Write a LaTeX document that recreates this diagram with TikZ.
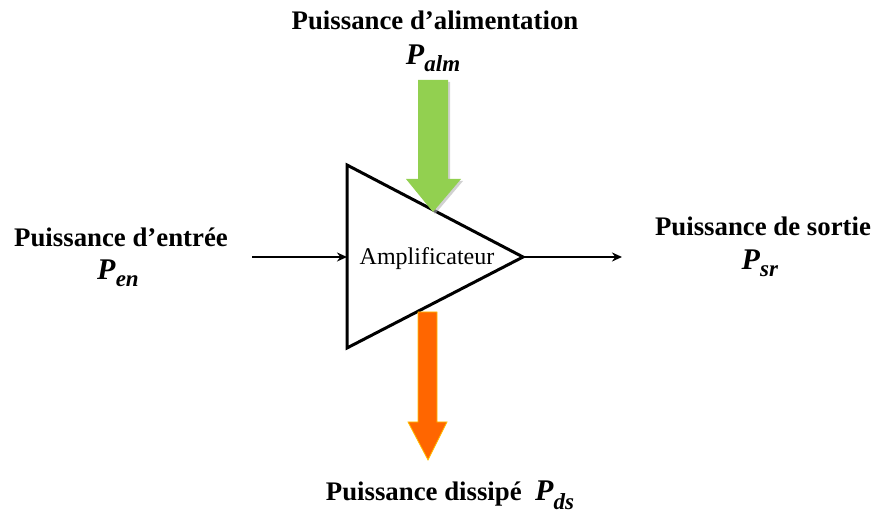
\documentclass[tikz,border=0pt]{standalone}
\usepackage{fontspec}
\setmainfont{Liberation Serif}
\newfontfamily\ampfont{Liberation Serif}
\usetikzlibrary{arrows.meta}
\definecolor{supplygreen}{HTML}{92D050}
\definecolor{lossorange}{HTML}{FF6600}
\definecolor{lossedge}{HTML}{FFC000}
% power symbol: bold italic P with a bold italic subscript
\newcommand{\pwr}[1]{{\fontsize{15}{17}\selectfont\textbf{\textit{P}}}\raisebox{-0.35em}{\fontsize{11.5}{13}\selectfont\textbf{\textit{#1}}}}
\tikzset{
  lbl/.style={font=\fontsize{13.4}{15}\selectfont\bfseries, align=center, inner sep=0pt},
  sym/.style={inner sep=0pt},
  wire/.style={line width=1pt, -{Stealth[length=5pt,width=4.5pt]}},
  body/.style={line width=1.5pt, line join=miter}
}
\begin{document}
\begin{tikzpicture}[x=0.5pt,y=-0.5pt]
\useasboundingbox (0,0) rectangle (872,512);
% amplifier triangle
\coordinate (tl) at (347,165);
\coordinate (bl) at (347,348);
\coordinate (apex) at (523,257);
\coordinate (inp) at (347,257);
\draw[body] (tl) -- (apex) -- (bl) -- cycle;
\node[font=\ampfont\fontsize{12}{14}\selectfont, inner sep=0pt] (amp) at (427,259) {Amplificateur};
% input and output signal paths
\coordinate (src) at (252,257);
\coordinate (load) at (622,257);
\draw[wire] (src) -- (inp);
\draw[wire] (apex) -- (load);
% supply power arrow (green) with soft shadow
\fill[black!30, opacity=0.6, shift={(2,2)}] (418,80) -- (448,80) -- (448,179) -- (461,179) -- (433,212) -- (406,179) -- (418,179) -- cycle;
\fill[supplygreen] (418,80) -- (448,80) -- (448,179) -- (461,179) -- (433,212) -- (406,179) -- (418,179) -- cycle;
% dissipated power arrow (orange)
\filldraw[fill=lossorange, draw=lossedge, line width=0.4pt] (418,312) -- (437,312) -- (437,422) -- (447,422) -- (428,460) -- (408,422) -- (418,422) -- cycle;
% labels
\node[lbl] (alm) at (435,20) {Puissance d’alimentation};
\node[sym] (palm) at (433,58) {\pwr{alm}};
\node[lbl] (ent) at (121,237) {Puissance d’entrée};
\node[sym] (pen) at (118,273) {\pwr{en}};
\node[lbl] (sort) at (763,226) {Puissance de sortie};
\node[sym] (psr) at (760,263) {\pwr{sr}};
\node[lbl] (diss) at (450,495) {Puissance dissipé\enspace\pwr{ds}};
\end{tikzpicture}
\end{document}
